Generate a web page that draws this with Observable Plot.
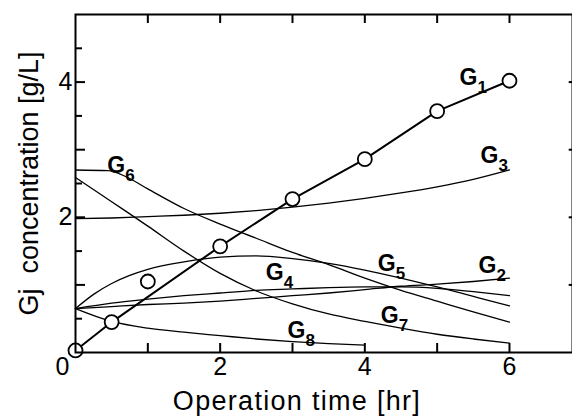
<!DOCTYPE html>
<html><head><meta charset="utf-8">
<script src="https://cdn.jsdelivr.net/npm/d3@7"></script>
<script src="https://cdn.jsdelivr.net/npm/@observablehq/plot@0.6"></script>
<style>body{margin:0;background:#fff}</style>
</head><body><div id="chart"></div>
<script>
// Shared time grid [hr]
const times = [0, 0.5, 1, 1.5, 2, 2.5, 3, 3.5, 4, 4.5, 5, 5.5, 6];
// Model curves [g/L]
const g2 = [0.65, 0.68, 0.71, 0.73, 0.76, 0.80, 0.84, 0.88, 0.93, 0.98, 1.01, 1.05, 1.10];
const g3 = [1.98, 1.99, 2.01, 2.03, 2.06, 2.10, 2.15, 2.21, 2.28, 2.36, 2.45, 2.56, 2.70];
const g4 = [0.65, 0.73, 0.79, 0.84, 0.88, 0.92, 0.94, 0.96, 0.97, 0.97, 0.95, 0.90, 0.84];
const g5Times = [0, 0.25, 0.5, 0.75, 1, 1.5, 2, 2.5, 3, 3.5, 4, 4.5, 5, 5.5, 6];
const g5 = [0.65, 0.86, 1.02, 1.14, 1.23, 1.34, 1.41, 1.43, 1.39, 1.32, 1.22, 1.10, 0.97, 0.83, 0.69];
const g7 = [2.59, 2.23, 1.87, 1.50, 1.17, 0.91, 0.72, 0.57, 0.46, 0.36, 0.27, 0.20, 0.14];
const g6Times = [0, 0.45, 0.7, 1, 1.5, 2, 2.5, 3, 3.5, 4, 4.5, 5, 5.5, 6];
const g6 = [2.70, 2.69, 2.60, 2.42, 2.13, 1.90, 1.69, 1.48, 1.30, 1.10, 0.92, 0.76, 0.60, 0.45];
const g8Times = [0, 0.5, 1, 1.5, 2, 2.5, 3, 3.5, 4];
const g8 = [0.65, 0.46, 0.36, 0.30, 0.25, 0.20, 0.16, 0.13, 0.11];
// G1: measured points and fitted line
const g1Times = [0, 0.5, 1, 2, 3, 4, 5, 6];
const g1Measured = [0.03, 0.45, 1.05, 1.57, 2.27, 2.86, 3.57, 4.02];
const g1FitTimes = [0, 0.5, 2, 3, 4, 5, 6];
const g1Fit = [0.03, 0.45, 1.57, 2.27, 2.86, 3.57, 4.02];
// Curve labels (G + subscript)
const labelNames = ["1", "2", "3", "4", "5", "6", "7", "8"];
const labelX = [5.31, 5.57, 5.60, 2.63, 4.18, 0.44, 4.22, 2.93];
const labelY = [3.95, 1.18, 2.80, 1.07, 1.21, 2.66, 0.44, 0.22];
// Axis ticks
const xTickLabels = [2, 4, 6];
const xOriginLabel = ["0"];
const xTicks = [1, 2, 3, 4, 5, 6];
const yTickLabels = [2, 4];
const yTicksMajor = [1, 2, 3, 4];
const yTicksMinor = [0.5, 1.5, 2.5, 3.5, 4.5];
const yRightTicks = [1, 2, 3, 4];
const xTitle = "Operation time [hr]";
const yTitle = "Gj\u00a0\u00a0concentration [g/L]";

const rows = [];
const add = (name, ts, vs) => ts.forEach((t, i) => rows.push({series: name, t, v: vs[i]}));
add("G2", times, g2); add("G3", times, g3); add("G4", times, g4); add("G5", g5Times, g5);
add("G6", g6Times, g6); add("G7", times, g7); add("G8", g8Times, g8);
const fit = g1FitTimes.map((t, i) => ({t, v: g1Fit[i]}));
const pts = g1Times.map((t, i) => ({t, v: g1Measured[i]}));
const labels = labelNames.map((n, i) => ({n, x: labelX[i], y: labelY[i]}));

// Layout
const W = 572, H = 416, mL = 75, mT = 14, mB = 64;
const xDomain = [0, 6.95], xRange = [75, 577.7];
const yDomain = [0, 5];
// pixel -> data unit conversions for inward tick lengths
const pxX = (xDomain[1] - xDomain[0]) / (xRange[1] - xRange[0]);
const pxY = (yDomain[1] - yDomain[0]) / (H - mB - mT);
const tickStyle = {stroke: "#000", strokeWidth: 2};

const font = "'Liberation Sans', Arial, Helvetica, sans-serif";
const chart = Plot.plot({
  width: W, height: H,
  marginLeft: mL, marginTop: mT, marginBottom: mB, marginRight: 0,
  x: {domain: xDomain, range: xRange},
  y: {domain: yDomain},
  style: {fontFamily: font, color: "#000", background: "#fff"},
  marks: [
    Plot.line(rows, {x: "t", y: "v", z: "series", curve: "monotone-x", stroke: "#000", strokeWidth: 1.3}),
    Plot.line(fit, {x: "t", y: "v", stroke: "#000", strokeWidth: 2}),
    Plot.dot(pts, {x: "t", y: "v", r: 7, fill: "#fff", stroke: "#000", strokeWidth: 1.8}),
    Plot.frame({stroke: "#000", strokeWidth: 2}),
    Plot.ruleX(xTicks, {x: d => d, y1: yDomain[0], y2: yDomain[0] + 9 * pxY, ...tickStyle}),
    Plot.ruleX(xTicks, {x: d => d, y1: yDomain[1] - 9 * pxY, y2: yDomain[1], ...tickStyle}),
    Plot.ruleY(yTicksMajor, {y: d => d, x1: xDomain[0], x2: xDomain[0] + 10 * pxX, ...tickStyle}),
    Plot.ruleY(yTicksMinor, {y: d => d, x1: xDomain[0], x2: xDomain[0] + 7 * pxX, ...tickStyle}),
    Plot.ruleY(yRightTicks, {y: d => d, x1: xDomain[1] - 9 * pxX, x2: xDomain[1], ...tickStyle}),
    Plot.axisX({anchor: "bottom", ticks: xTickLabels, tickSize: 0, tickPadding: 5, fontSize: 25, tickFormat: d3.format("d"), label: null}),
    Plot.axisY({anchor: "left", ticks: yTickLabels, tickSize: 0, tickPadding: 3, fontSize: 25, tickFormat: d3.format("d"), label: null}),
    Plot.text(xOriginLabel, {x: 0, frameAnchor: "bottom", text: d => d, dx: -13, dy: 5, textAnchor: "middle", lineAnchor: "top", fontSize: 25}),
    Plot.text([xTitle], {frameAnchor: "bottom", text: d => d, dx: -27, dy: 49, textAnchor: "middle", lineAnchor: "middle", fontSize: 27}),
    Plot.text([yTitle], {frameAnchor: "left", text: d => d, dx: -46, rotate: -90, textAnchor: "middle", lineAnchor: "middle", fontSize: 27}),
    Plot.text(labels, {x: "x", y: "y", text: () => "G", textAnchor: "start", lineAnchor: "bottom", fontSize: 23, fontWeight: "bold"}),
    Plot.text(labels, {x: "x", y: "y", text: "n", dx: 18, dy: 8, textAnchor: "start", lineAnchor: "bottom", fontSize: 17, fontWeight: "bold"})
  ]
});
d3.select(chart).selectAll("text")
  .filter(function() { return this.textContent === xTitle; })
  .style("letter-spacing", "1.3px");
document.getElementById("chart").appendChild(chart);
</script>
</body></html>
